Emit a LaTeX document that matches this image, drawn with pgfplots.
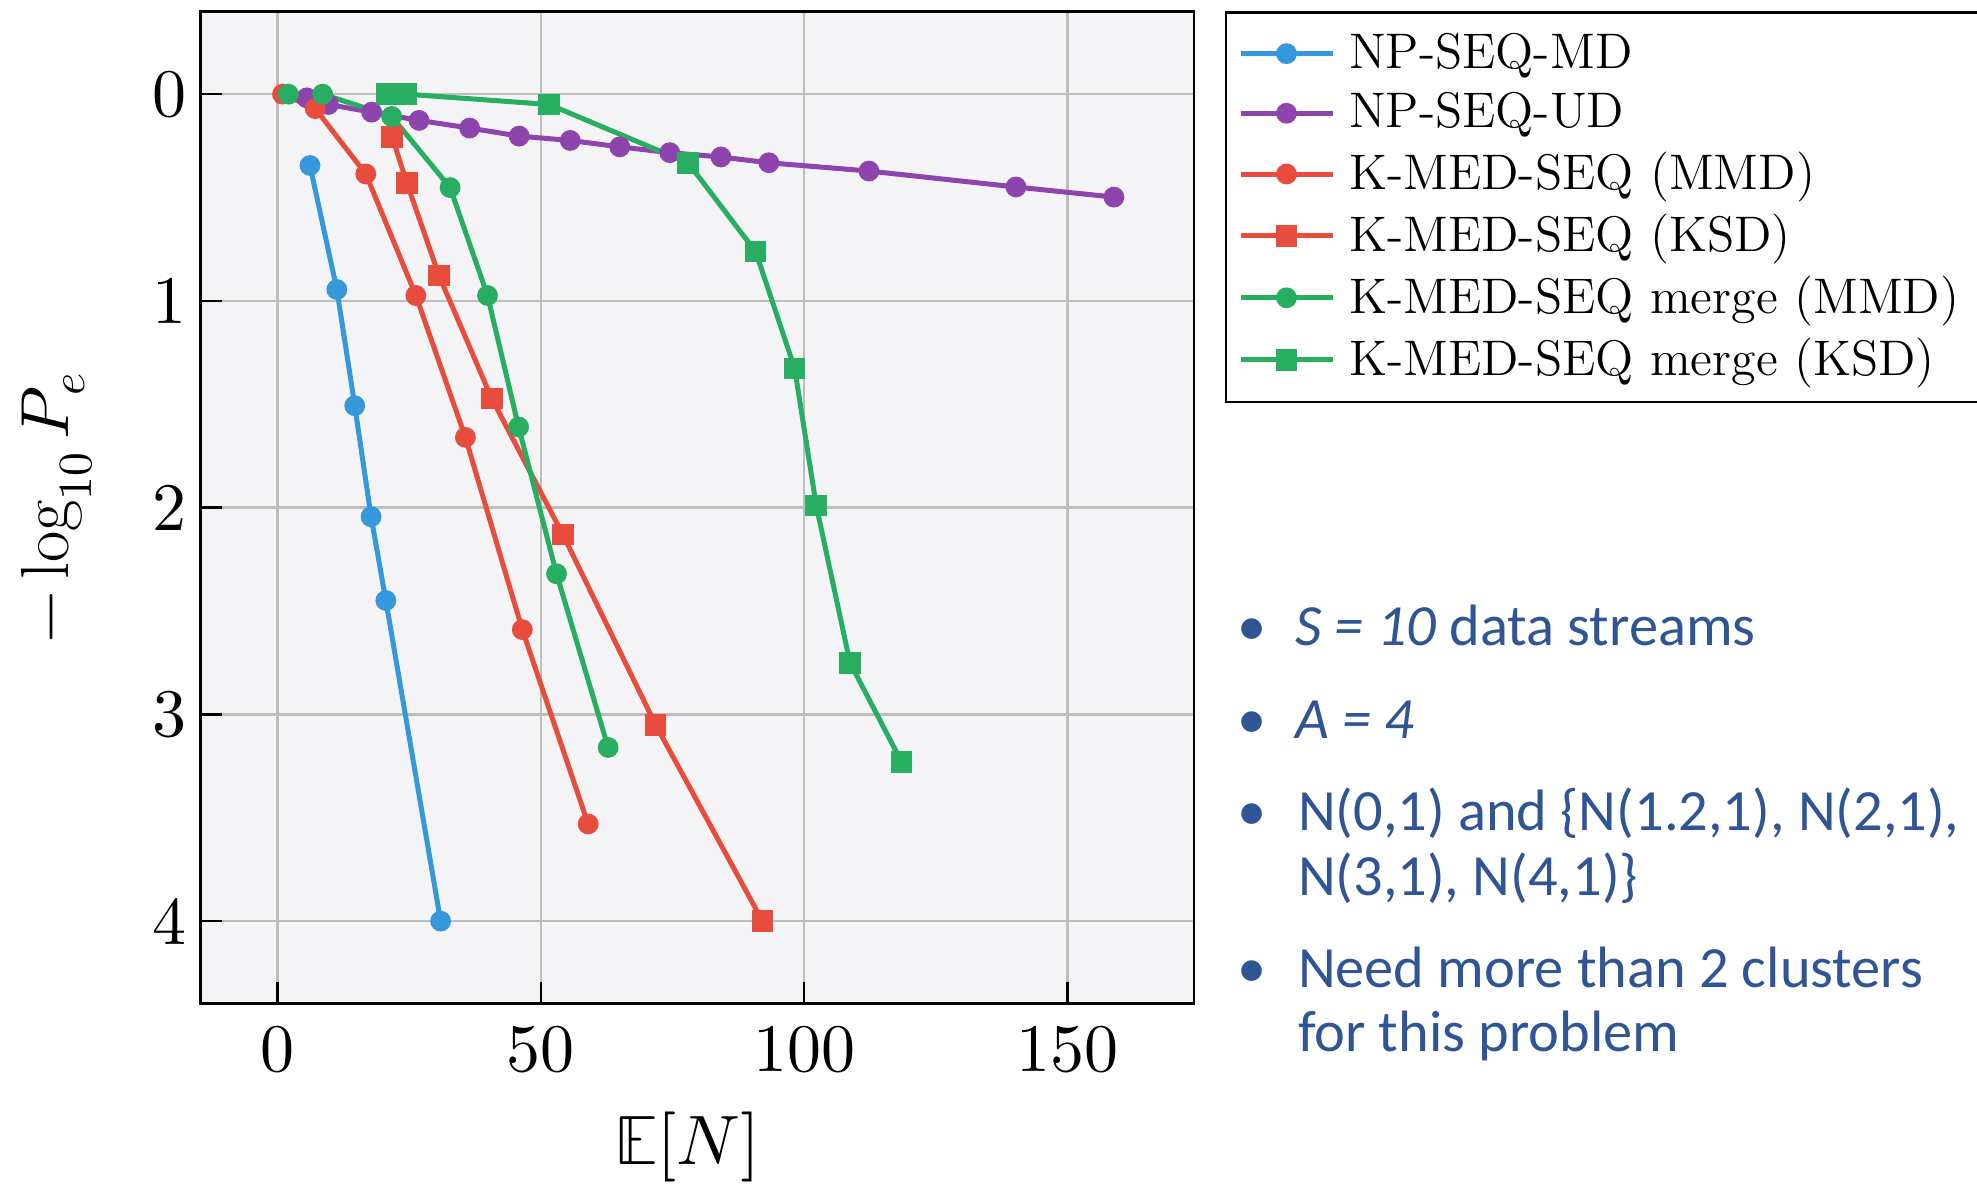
\documentclass[border=0pt]{standalone}
\usepackage{fontspec}
\usepackage{unicode-math}
\setmathfont{Latin Modern Math}
\usepackage{pgfplots}
\pgfplotsset{compat=1.18}
\newfontfamily\carlito{Carlito}
\definecolor{cblue}{HTML}{3498DB}
\definecolor{cpurple}{HTML}{8E44AD}
\definecolor{cred}{HTML}{E74C3C}
\definecolor{cgreen}{HTML}{27AE60}
\definecolor{bgcol}{HTML}{F4F4F7}
\definecolor{gridcol}{HTML}{BDBDBD}
\definecolor{txtblue}{HTML}{2F5597}

\begin{document}
\begin{tikzpicture}
\useasboundingbox (0,0) rectangle (494.25pt,295.75pt);
\begin{axis}[
  at={(50.1pt,44.8pt)}, anchor=south west,
  scale only axis, width=248.4pt, height=248.1pt,
  xmin=-14.6, xmax=174, ymin=-0.4, ymax=4.4, y dir=reverse,
  xtick={0,50,100,150}, ytick={0,1,2,3,4},
  xtick pos=left, ytick pos=left,
  tick align=inside,
  major tick length=5.5pt,
  tick style={black, line width=0.6pt},
  axis line style={black, line width=0.7pt},
  grid=major,
  major grid style={gridcol, line width=0.6pt},
  axis background/.style={fill=bgcol},
  tick label style={font=\fontsize{17}{20}\selectfont},
  xticklabel style={yshift=-2pt},
  every axis x label/.style={at={(axis description cs:0.49,-0.1443)}, anchor=center, font=\fontsize{17.5}{20}\selectfont},
  every axis y label/.style={at={(axis description cs:-0.1445,0.5)}, rotate=90, anchor=center, font=\fontsize{17}{20}\selectfont},
  xlabel={$\mathbb{E}[N]$},
  ylabel={$-\log_{10} P_e$},
  legend style={at={(1.031,1.0)}, anchor=north west, draw=black, line width=0.6pt, fill=white,
    font=\fontsize{12.5}{15}\selectfont, row sep=0.6pt, inner xsep=3pt, inner ysep=3.1pt,
    /tikz/every odd column/.append style={column sep=1.5pt}},
  legend cell align=left,
  legend image code/.code={\draw[mark repeat=2,mark phase=2] plot coordinates {(0pt,0pt) (11.5pt,0pt) (23pt,0pt)};},
  every axis plot/.append style={line width=1.25pt, mark options={solid, line width=0.4pt}},
]
\addplot[cblue, mark=*, mark size=2.4pt] coordinates {
 (6.2,0.345) (11.3,0.945) (14.7,1.507) (17.8,2.044) (20.6,2.449) (31.0,4.0)};
\addlegendentry{NP-SEQ-MD}
\addplot[cpurple, mark=*, mark size=2.4pt] coordinates {
 (5.6,0.018) (9.7,0.05) (17.9,0.087) (26.9,0.127) (36.5,0.164) (45.9,0.203) (55.6,0.224) (65.0,0.255) (74.5,0.283) (84.2,0.304) (93.3,0.332) (112.3,0.372) (140.2,0.449) (158.8,0.498)};
\addlegendentry{NP-SEQ-UD}
\addplot[cred, mark=*, mark size=2.4pt] coordinates {
 (1.0,0) (7.2,0.07) (16.8,0.386) (26.3,0.974) (35.7,1.66) (46.5,2.59) (59.0,3.53)};
\addlegendentry{K-MED-SEQ (MMD)}
\addplot[cred, mark=square*, mark size=2.5pt] coordinates {
 (21.8,0.208) (24.6,0.43) (30.7,0.878) (40.7,1.472) (54.2,2.13) (71.8,3.05) (92.1,4.0)};
\addlegendentry{K-MED-SEQ (KSD)}
\addplot[cgreen, mark=*, mark size=2.4pt] coordinates {
 (2.1,0) (8.6,0) (21.7,0.108) (32.8,0.452) (39.9,0.974) (45.8,1.61) (53.0,2.32) (62.8,3.16)};
\addlegendentry{K-MED-SEQ merge (MMD)}
\addplot[cgreen, mark=square*, mark size=2.5pt] coordinates {
 (20.8,0) (24.4,0) (51.6,0.05) (78.0,0.333) (90.8,0.762) (98.2,1.327) (102.3,1.99) (108.7,2.75) (118.5,3.23)};
\addlegendentry{K-MED-SEQ merge (KSD)}
\end{axis}
\begin{scope}[txtblue, font=\carlito\fontsize{14.6}{16}\selectfont]
\node[anchor=base, inner sep=0pt] at (312.9pt,134.3pt) {•};
\node[anchor=base west, inner sep=0pt] at (323.6pt,134.3pt) {\itshape S = 10\upshape{} data streams};
\node[anchor=base, inner sep=0pt] at (312.9pt,111.2pt) {•};
\node[anchor=base west, inner sep=0pt] at (323.6pt,111.2pt) {\itshape A = 4};
\node[anchor=base, inner sep=0pt] at (312.9pt,88.1pt) {•};
\node[anchor=base west, inner sep=0pt] at (324.3pt,88.1pt) {N(0,1) and \{N(1.2,1), N(2,1),};
\node[anchor=base west, inner sep=0pt] at (324.3pt,72.0pt) {N(3,1), N(4,1)\}};
\node[anchor=base, inner sep=0pt] at (312.9pt,48.9pt) {•};
\node[anchor=base west, inner sep=0pt] at (324.3pt,48.9pt) {Need more than 2 clusters};
\node[anchor=base west, inner sep=0pt] at (324.3pt,32.8pt) {for this problem};
\end{scope}
\end{tikzpicture}
\end{document}
